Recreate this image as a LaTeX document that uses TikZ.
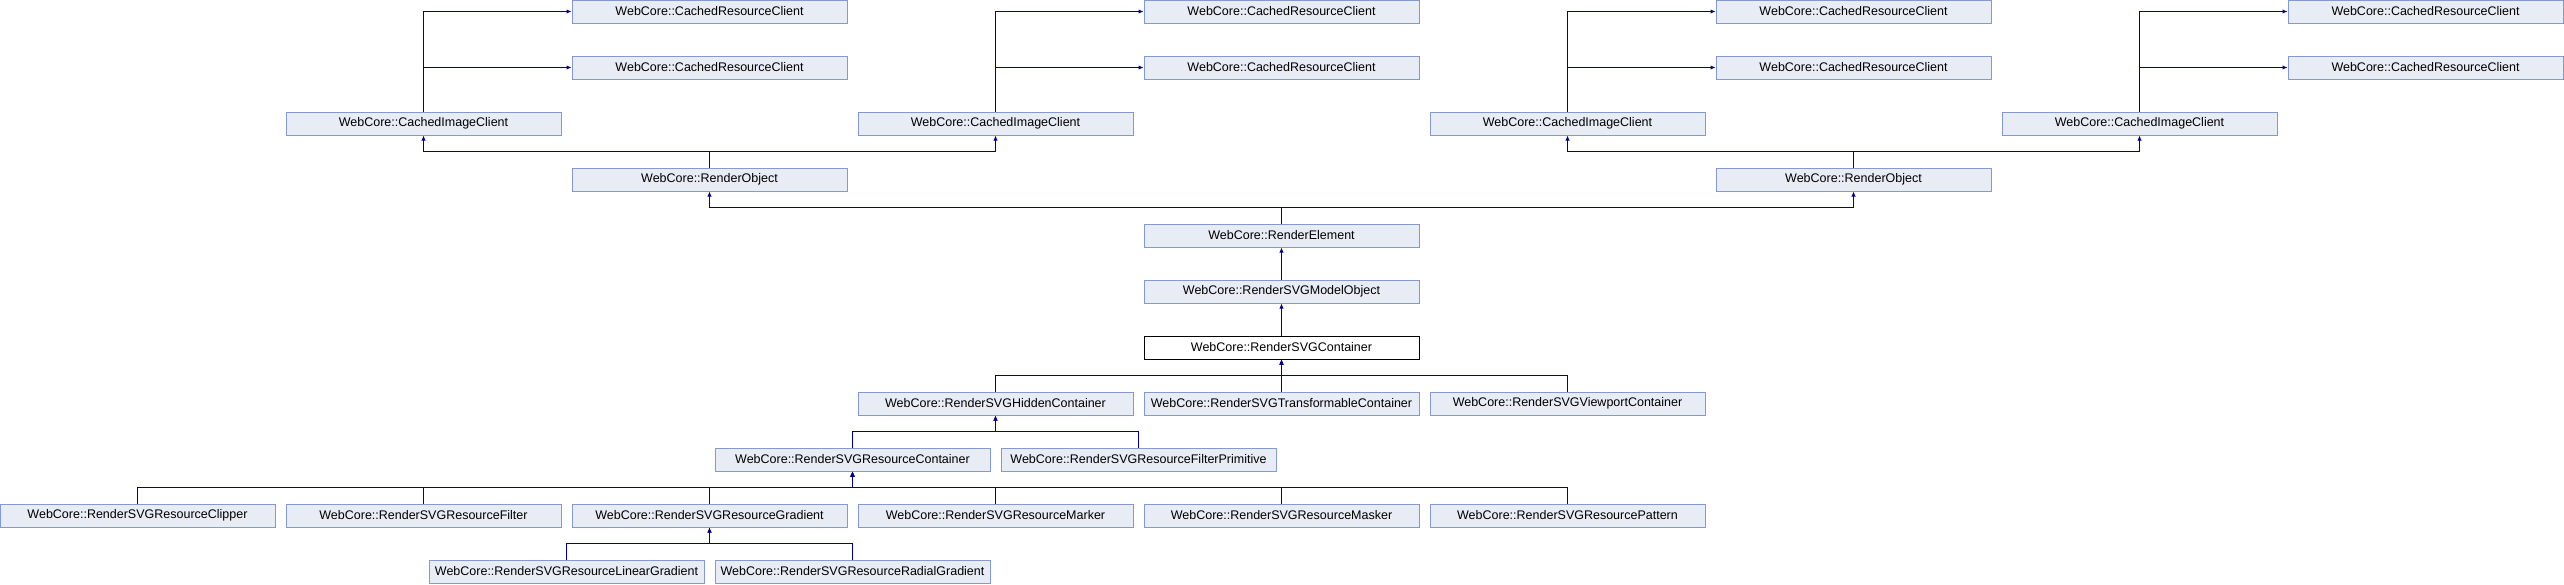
\documentclass[tikz,border=0pt]{standalone}
\usepackage{fontspec}
\setmainfont{Liberation Sans}
\usetikzlibrary{arrows.meta,positioning}

\definecolor{clsfill}{RGB}{232,236,244}
\definecolor{clsdraw}{RGB}{132,154,206}
\definecolor{inhline}{RGB}{0,0,140}

\begin{document}
\begin{tikzpicture}[x=1pt,y=-1pt,node distance=56pt,
        cls/.style={draw=clsdraw,fill=clsfill,line width=1pt,
          minimum width=275pt,minimum height=23pt,inner sep=0pt,
          font=\fontsize{12.5}{15}\selectfont},
        focus/.style={cls,draw=black,fill=white},
        inherit/.style={draw=inhline,line width=1pt,
          -{Latex[length=5pt,width=4.5pt]}}]

      \useasboundingbox (0,0) rectangle (2564,584);

      % main chain
      \node[focus]    (SVGCont) at (1281.5,347.5)                 {WebCore::RenderSVGContainer};
      \node[cls]      (SVGModel) [above of=SVGCont]               {WebCore::RenderSVGModelObject};
      \node[cls]      (Elem)     [above of=SVGModel]              {WebCore::RenderElement};
      \node[cls]      (ObjL)     [above of=Elem, xshift=-572pt]   {WebCore::RenderObject};
      \node[cls]      (ObjR)     [above of=Elem, xshift=572pt]    {WebCore::RenderObject};

      % image clients
      \node[cls]      (ImgA) [above of=ObjL, xshift=-286pt]       {WebCore::CachedImageClient};
      \node[cls]      (ImgB) [above of=ObjL, xshift=286pt]        {WebCore::CachedImageClient};
      \node[cls]      (ImgC) [above of=ObjR, xshift=-286pt]       {WebCore::CachedImageClient};
      \node[cls]      (ImgD) [above of=ObjR, xshift=286pt]        {WebCore::CachedImageClient};

      % resource clients
      \node[cls]      (ResA2) [above of=ImgA, xshift=286pt]       {WebCore::CachedResourceClient};
      \node[cls]      (ResA1) [above of=ResA2]                    {WebCore::CachedResourceClient};
      \node[cls]      (ResB2) [above of=ImgB, xshift=286pt]       {WebCore::CachedResourceClient};
      \node[cls]      (ResB1) [above of=ResB2]                    {WebCore::CachedResourceClient};
      \node[cls]      (ResC2) [above of=ImgC, xshift=286pt]       {WebCore::CachedResourceClient};
      \node[cls]      (ResC1) [above of=ResC2]                    {WebCore::CachedResourceClient};
      \node[cls]      (ResD2) [above of=ImgD, xshift=286pt]       {WebCore::CachedResourceClient};
      \node[cls]      (ResD1) [above of=ResD2]                    {WebCore::CachedResourceClient};

      % derived containers
      \node[cls]      (Hidden) [below of=SVGCont, xshift=-286pt]  {WebCore::RenderSVGHiddenContainer};
      \node[cls]      (Transf) [below of=SVGCont]                 {WebCore::RenderSVGTransformableContainer};
      \node[cls]      (Viewp)  [below of=SVGCont, xshift=286pt]   {WebCore::RenderSVGViewportContainer};
      \node[cls]      (ResCont) [below of=Hidden, xshift=-143pt]  {WebCore::RenderSVGResourceContainer};
      \node[cls]      (FiltPrim) [below of=Hidden, xshift=143pt]  {WebCore::RenderSVGResourceFilterPrimitive};

      % resources
      \node[cls]      (Clip)  [below of=ResCont, xshift=-715pt]   {WebCore::RenderSVGResourceClipper};
      \node[cls]      (Filt)  [below of=ResCont, xshift=-429pt]   {WebCore::RenderSVGResourceFilter};
      \node[cls]      (Grad)  [below of=ResCont, xshift=-143pt]   {WebCore::RenderSVGResourceGradient};
      \node[cls]      (Mark)  [below of=ResCont, xshift=143pt]    {WebCore::RenderSVGResourceMarker};
      \node[cls]      (Mask)  [below of=ResCont, xshift=429pt]    {WebCore::RenderSVGResourceMasker};
      \node[cls]      (Patt)  [below of=ResCont, xshift=715pt]    {WebCore::RenderSVGResourcePattern};
      \node[cls]      (LinG)  [below of=Grad, xshift=-143pt]      {WebCore::RenderSVGResourceLinearGradient};
      \node[cls]      (RadG)  [below of=Grad, xshift=143pt]       {WebCore::RenderSVGResourceRadialGradient};

      % image client -> resource clients
      \foreach \i in {A,B,C,D} {
        \draw[inherit] (Img\i.north) |- (Res\i1.west);
        \draw[inherit] (Img\i.north) |- (Res\i2.west);
      }

      % child -> base, through a bus halfway between rows
      \draw[inherit] (ObjL.north) -- ++(0pt,16.5pt) -| (ImgA.south);
      \draw[inherit] (ObjL.north) -- ++(0pt,16.5pt) -| (ImgB.south);
      \draw[inherit] (ObjR.north) -- ++(0pt,16.5pt) -| (ImgC.south);
      \draw[inherit] (ObjR.north) -- ++(0pt,16.5pt) -| (ImgD.south);
      \draw[inherit] (Elem.north) -- ++(0pt,16.5pt) -| (ObjL.south);
      \draw[inherit] (Elem.north) -- ++(0pt,16.5pt) -| (ObjR.south);
      \draw[inherit] (SVGModel) -- (Elem);
      \draw[inherit] (SVGCont) -- (SVGModel);

      \foreach \c in {Hidden,Transf,Viewp}
        \draw[inherit] (\c.north) -- ++(0pt,16.5pt) -| (SVGCont.south);
      \foreach \c in {ResCont,FiltPrim}
        \draw[inherit] (\c.north) -- ++(0pt,16.5pt) -| (Hidden.south);
      \foreach \c in {Clip,Filt,Grad,Mark,Mask,Patt}
        \draw[inherit] (\c.north) -- ++(0pt,16.5pt) -| (ResCont.south);
      \foreach \c in {LinG,RadG}
        \draw[inherit] (\c.north) -- ++(0pt,16.5pt) -| (Grad.south);

    \end{tikzpicture}
\end{document}
